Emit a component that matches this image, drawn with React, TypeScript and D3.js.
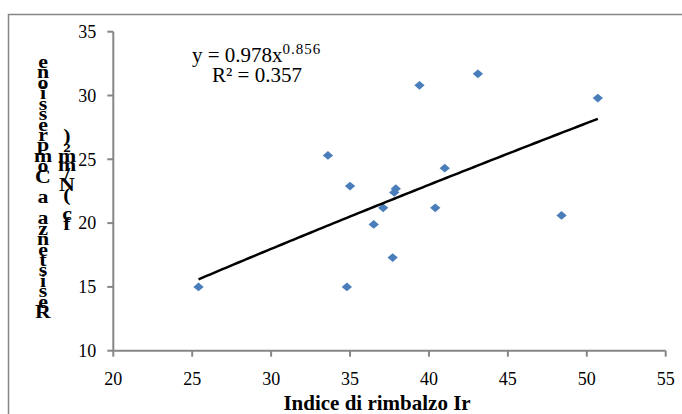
import React from "react";
import * as d3 from "d3";

// rebound index (x) and compressive strength (y)
const reboundIndex = [25.4, 33.6, 35.0, 37.8, 37.9, 37.1, 36.5, 37.7, 34.8, 39.4, 43.1, 41.0, 40.4, 50.7, 48.4];
const strength = [15.0, 25.3, 22.9, 22.4, 22.7, 21.2, 19.9, 17.3, 15.0, 30.8, 31.7, 24.3, 21.2, 29.8, 20.6];

const xTicks = [20, 25, 30, 35, 40, 45, 50, 55];
const yTicks = [10, 15, 20, 25, 30, 35];

// power trendline y = a * x^b
const trendA = 0.978;
const trendB = 0.856;

const yTitleMain = "Resistenza a Compressione";
const yTitleUnit = "fc (N/mm2)";

const width = 682;
const height = 414;
const margin = { top: 31.7, right: 16.3, bottom: 63.3, left: 113.3 };

const font = "'Liberation Serif', 'Times New Roman', serif";
const axisColor = "#868686";
const pointColor = "#4A7EBB";

const App = () => {
  const xScale = d3
    .scaleLinear()
    .domain([20, 55])
    .range([margin.left, width - margin.right]);
  const yScale = d3
    .scaleLinear()
    .domain([10, 35])
    .range([height - margin.bottom, margin.top]);

  const points = reboundIndex.map((x, i) => ({ x, y: strength[i] }));

  const [xMin, xMax] = d3.extent(reboundIndex) as [number, number];
  const trend = d3.range(0, 101).map((i) => {
    const x = xMin + ((xMax - xMin) * i) / 100;
    return [x, trendA * Math.pow(x, trendB)] as [number, number];
  });
  const trendPath = d3
    .line<[number, number]>()
    .x((d) => xScale(d[0]))
    .y((d) => yScale(d[1]))(trend);

  const diamond = d3.symbol().type(d3.symbolDiamond2).size(58)();

  const x0 = xScale(20);
  const y0 = yScale(10);

  // stacked, upright letters, reading bottom to top (as in the original)
  const stack = (s: string, cx: number, top: number, step: number) =>
    s
      .split("")
      .reverse()
      .map((c, i) => (
        <text
          key={i}
          transform={`translate(${cx},${top + i * step}) scale(1.15,1)`}
          textAnchor="middle"
          fontWeight="bold"
          fontSize={c === "2" ? 13 : 19}
        >
          {c}
        </text>
      ));

  return (
    <svg
      width={width}
      height={height}
      style={{ position: "absolute", left: 0, top: 0, background: "white" }}
      fontFamily={font}
    >
      <rect x={8.5} y={14.5} width={720} height={450} fill="none" stroke={axisColor} strokeWidth={1.5} />

      {/* axes */}
      <line x1={x0} y1={yScale(35)} x2={x0} y2={y0} stroke={axisColor} strokeWidth={2} />
      <line x1={x0} y1={y0} x2={xScale(55)} y2={y0} stroke={axisColor} strokeWidth={2} />
      {yTicks.map((t) => (
        <g key={"y" + t}>
          <line x1={x0 - 6} x2={x0} y1={yScale(t)} y2={yScale(t)} stroke={axisColor} strokeWidth={2} />
          <text x={x0 - 17} y={yScale(t)} dy="0.35em" textAnchor="end" fontSize={18}>
            {t}
          </text>
        </g>
      ))}
      {xTicks.map((t) => (
        <g key={"x" + t}>
          <line x1={xScale(t)} x2={xScale(t)} y1={y0} y2={y0 + 6} stroke={axisColor} strokeWidth={2} />
          <text x={xScale(t)} y={y0 + 34} textAnchor="middle" fontSize={18}>
            {t}
          </text>
        </g>
      ))}

      {/* points */}
      {points.map((d, i) => (
        <path
          key={i}
          d={diamond!}
          transform={`translate(${xScale(d.x)},${yScale(d.y)}) scale(1.08,0.92)`}
          fill={pointColor}
        />
      ))}

      {/* trendline */}
      <path d={trendPath!} fill="none" stroke="black" strokeWidth={2.5} />

      {/* equation */}
      <text x={192} y={62} fontSize={21}>
        y = 0.978x
        <tspan fontSize={15} dy={-8} letterSpacing={1}>
          0.856
        </tspan>
      </text>
      <text x={212} y={82} fontSize={21}>
        R² = 0.357
      </text>

      {/* axis titles */}
      <text x={377} y={410} textAnchor="middle" fontSize={21} fontWeight="bold">
        Indice di rimbalzo Ir
      </text>
      {stack(yTitleMain, 43, 68, 10.42)}
      {stack(yTitleUnit, 67, 142, 9.8)}
    </svg>
  );
};

export default App;
